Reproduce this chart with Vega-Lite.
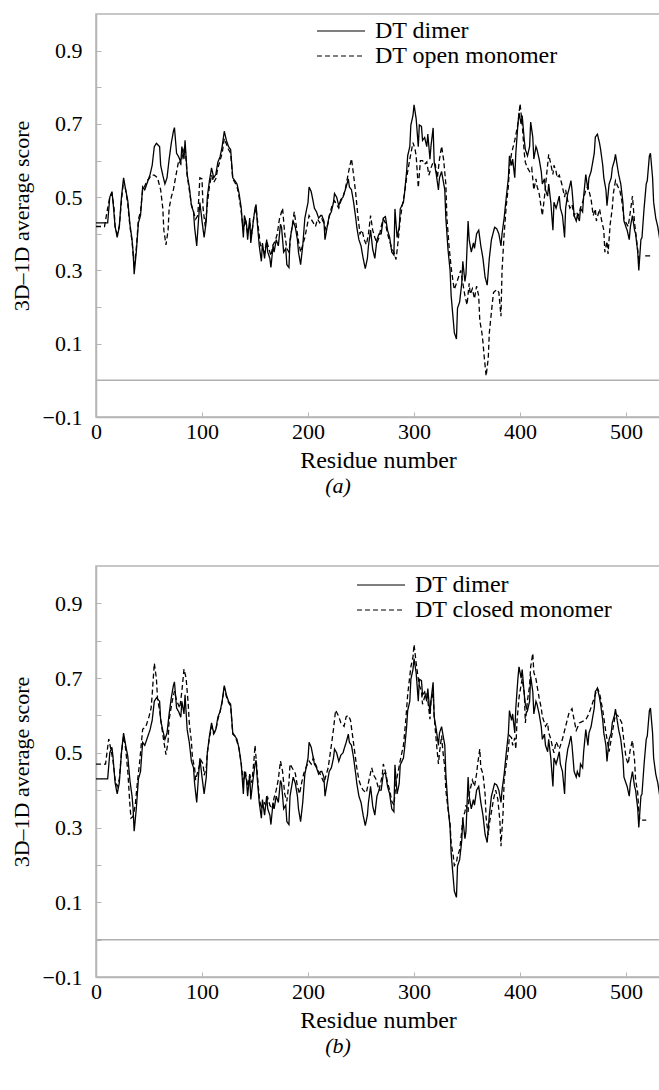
{
"$schema": "https://vega.github.io/schema/vega-lite/v6.json",
"background": "white",
"padding": {"left": 9, "top": 13, "right": 0, "bottom": 4},
"config": {
  "font": "Liberation Serif",
  "view": {"stroke": "#b5b5b5", "strokeWidth": 1.5},
  "axis": {"domainColor": "#b5b5b5", "domainWidth": 1.5, "tickColor": "#b5b5b5", "tickWidth": 1, "tickSize": -5, "grid": false,
    "labelFont": "Liberation Serif", "labelFontSize": 22, "labelColor": "#000", "labelFlush": false, "labelOverlap": false,
    "titleFont": "Liberation Serif", "titleFontSize": 22, "titleFontWeight": "normal", "titleColor": "#000"},
  "legend": {"title": null, "labelFont": "Liberation Serif", "labelFontSize": 24, "labelColor": "#000", "labelLimit": 400, "symbolType": "stroke", "symbolSize": 2304, "symbolStrokeWidth": 1.2, "symbolStrokeColor": "#000", "labelOffset": 9, "rowPadding": 1, "clipHeight": 22, "padding": 0},
  "title": {"font": "Liberation Serif", "fontSize": 22, "fontWeight": "normal", "fontStyle": "italic", "color": "#000"}
},
"datasets": {
"dimer": [{"residue":0,"score":0.43},{"residue":11,"score":0.43},{"residue":13,"score":0.5},{"residue":15,"score":0.515},{"residue":16,"score":0.49},{"residue":18,"score":0.42},{"residue":20,"score":0.39},{"residue":22,"score":0.42},{"residue":24,"score":0.5},{"residue":26,"score":0.553},{"residue":28,"score":0.52},{"residue":30,"score":0.49},{"residue":32,"score":0.426},{"residue":34,"score":0.384},{"residue":35,"score":0.35},{"residue":36,"score":0.29},{"residue":38,"score":0.35},{"residue":40,"score":0.43},{"residue":42,"score":0.45},{"residue":44,"score":0.528},{"residue":46,"score":0.52},{"residue":49,"score":0.545},{"residue":51,"score":0.562},{"residue":53,"score":0.587},{"residue":55,"score":0.638},{"residue":57,"score":0.647},{"residue":60,"score":0.638},{"residue":61,"score":0.587},{"residue":63,"score":0.56},{"residue":65,"score":0.536},{"residue":67,"score":0.553},{"residue":69,"score":0.604},{"residue":71,"score":0.647},{"residue":73,"score":0.68},{"residue":74,"score":0.69},{"residue":76,"score":0.62},{"residue":78,"score":0.61},{"residue":80,"score":0.595},{"residue":81,"score":0.638},{"residue":83,"score":0.604},{"residue":84,"score":0.655},{"residue":86,"score":0.562},{"residue":88,"score":0.528},{"residue":90,"score":0.477},{"residue":92,"score":0.46},{"residue":93,"score":0.418},{"residue":95,"score":0.367},{"residue":97,"score":0.45},{"residue":98,"score":0.485},{"residue":100,"score":0.435},{"residue":102,"score":0.39},{"residue":104,"score":0.435},{"residue":105,"score":0.5},{"residue":107,"score":0.545},{"residue":109,"score":0.58},{"residue":111,"score":0.553},{"residue":113,"score":0.562},{"residue":115,"score":0.596},{"residue":117,"score":0.61},{"residue":119,"score":0.638},{"residue":121,"score":0.68},{"residue":123,"score":0.655},{"residue":125,"score":0.638},{"residue":127,"score":0.63},{"residue":129,"score":0.553},{"residue":131,"score":0.545},{"residue":133,"score":0.536},{"residue":135,"score":0.51},{"residue":137,"score":0.47},{"residue":139,"score":0.39},{"residue":140,"score":0.45},{"residue":142,"score":0.426},{"residue":143,"score":0.384},{"residue":145,"score":0.443},{"residue":146,"score":0.375},{"residue":148,"score":0.426},{"residue":150,"score":0.47},{"residue":151,"score":0.48},{"residue":152,"score":0.435},{"residue":154,"score":0.367},{"residue":156,"score":0.325},{"residue":157,"score":0.375},{"residue":159,"score":0.333},{"residue":161,"score":0.384},{"residue":162,"score":0.35},{"residue":164,"score":0.333},{"residue":165,"score":0.308},{"residue":167,"score":0.367},{"residue":168,"score":0.35},{"residue":170,"score":0.384},{"residue":172,"score":0.367},{"residue":174,"score":0.426},{"residue":175,"score":0.418},{"residue":177,"score":0.35},{"residue":179,"score":0.36},{"residue":180,"score":0.316},{"residue":182,"score":0.308},{"residue":183,"score":0.384},{"residue":185,"score":0.418},{"residue":186,"score":0.435},{"residue":188,"score":0.418},{"residue":190,"score":0.384},{"residue":191,"score":0.35},{"residue":193,"score":0.316},{"residue":195,"score":0.367},{"residue":197,"score":0.443},{"residue":200,"score":0.486},{"residue":201,"score":0.528},{"residue":203,"score":0.515},{"residue":205,"score":0.486},{"residue":206,"score":0.47},{"residue":208,"score":0.46},{"residue":210,"score":0.443},{"residue":212,"score":0.45},{"residue":213,"score":0.45},{"residue":215,"score":0.435},{"residue":216,"score":0.384},{"residue":218,"score":0.418},{"residue":220,"score":0.45},{"residue":222,"score":0.46},{"residue":224,"score":0.486},{"residue":225,"score":0.51},{"residue":227,"score":0.5},{"residue":229,"score":0.477},{"residue":231,"score":0.494},{"residue":233,"score":0.5},{"residue":234,"score":0.51},{"residue":236,"score":0.528},{"residue":238,"score":0.55},{"residue":239,"score":0.528},{"residue":241,"score":0.52},{"residue":243,"score":0.486},{"residue":245,"score":0.443},{"residue":246,"score":0.418},{"residue":248,"score":0.384},{"residue":250,"score":0.367},{"residue":252,"score":0.333},{"residue":254,"score":0.305},{"residue":256,"score":0.333},{"residue":257,"score":0.367},{"residue":259,"score":0.41},{"residue":261,"score":0.358},{"residue":263,"score":0.333},{"residue":265,"score":0.384},{"residue":267,"score":0.4},{"residue":269,"score":0.4},{"residue":271,"score":0.443},{"residue":273,"score":0.447},{"residue":275,"score":0.41},{"residue":277,"score":0.39},{"residue":279,"score":0.35},{"residue":281,"score":0.342},{"residue":282,"score":0.468},{"residue":284,"score":0.39},{"residue":286,"score":0.418},{"residue":287,"score":0.468},{"residue":290,"score":0.486},{"residue":291,"score":0.51},{"residue":293,"score":0.57},{"residue":294,"score":0.613},{"residue":296,"score":0.638},{"residue":297,"score":0.697},{"residue":299,"score":0.723},{"residue":300,"score":0.752},{"residue":302,"score":0.714},{"residue":304,"score":0.638},{"residue":305,"score":0.697},{"residue":307,"score":0.693},{"residue":308,"score":0.655},{"residue":310,"score":0.663},{"residue":312,"score":0.638},{"residue":313,"score":0.672},{"residue":315,"score":0.604},{"residue":316,"score":0.64},{"residue":318,"score":0.689},{"residue":319,"score":0.596},{"residue":321,"score":0.562},{"residue":323,"score":0.52},{"residue":324,"score":0.553},{"residue":326,"score":0.57},{"residue":327,"score":0.553},{"residue":329,"score":0.52},{"residue":330,"score":0.443},{"residue":332,"score":0.358},{"residue":334,"score":0.3},{"residue":335,"score":0.231},{"residue":337,"score":0.164},{"residue":338,"score":0.13},{"residue":340,"score":0.113},{"residue":341,"score":0.197},{"residue":343,"score":0.214},{"residue":345,"score":0.265},{"residue":346,"score":0.325},{"residue":348,"score":0.27},{"residue":349,"score":0.29},{"residue":351,"score":0.435},{"residue":352,"score":0.384},{"residue":354,"score":0.35},{"residue":356,"score":0.375},{"residue":357,"score":0.36},{"residue":359,"score":0.4},{"residue":361,"score":0.41},{"residue":363,"score":0.367},{"residue":365,"score":0.333},{"residue":367,"score":0.282},{"residue":369,"score":0.26},{"residue":371,"score":0.333},{"residue":373,"score":0.384},{"residue":376,"score":0.418},{"residue":378,"score":0.414},{"residue":380,"score":0.4},{"residue":382,"score":0.367},{"residue":383,"score":0.4},{"residue":385,"score":0.443},{"residue":387,"score":0.5},{"residue":389,"score":0.553},{"residue":390,"score":0.613},{"residue":392,"score":0.587},{"residue":393,"score":0.604},{"residue":395,"score":0.553},{"residue":396,"score":0.62},{"residue":398,"score":0.7},{"residue":399,"score":0.73},{"residue":401,"score":0.7},{"residue":402,"score":0.723},{"residue":404,"score":0.655},{"residue":405,"score":0.63},{"residue":407,"score":0.613},{"residue":409,"score":0.638},{"residue":410,"score":0.705},{"residue":412,"score":0.664},{"residue":413,"score":0.604},{"residue":415,"score":0.638},{"residue":416,"score":0.63},{"residue":418,"score":0.604},{"residue":420,"score":0.57},{"residue":421,"score":0.536},{"residue":423,"score":0.55},{"residue":424,"score":0.52},{"residue":426,"score":0.503},{"residue":427,"score":0.536},{"residue":429,"score":0.486},{"residue":431,"score":0.41},{"residue":432,"score":0.486},{"residue":434,"score":0.47},{"residue":435,"score":0.48},{"residue":437,"score":0.503},{"residue":438,"score":0.47},{"residue":440,"score":0.45},{"residue":442,"score":0.39},{"residue":443,"score":0.47},{"residue":445,"score":0.51},{"residue":446,"score":0.52},{"residue":448,"score":0.545},{"residue":449,"score":0.52},{"residue":451,"score":0.45},{"residue":453,"score":0.435},{"residue":454,"score":0.45},{"residue":456,"score":0.435},{"residue":457,"score":0.47},{"residue":459,"score":0.46},{"residue":460,"score":0.503},{"residue":462,"score":0.562},{"residue":464,"score":0.52},{"residue":465,"score":0.553},{"residue":467,"score":0.57},{"residue":468,"score":0.587},{"residue":470,"score":0.62},{"residue":471,"score":0.664},{"residue":473,"score":0.672},{"residue":475,"score":0.647},{"residue":476,"score":0.63},{"residue":478,"score":0.587},{"residue":479,"score":0.553},{"residue":481,"score":0.52},{"residue":482,"score":0.477},{"residue":484,"score":0.536},{"residue":486,"score":0.553},{"residue":487,"score":0.58},{"residue":489,"score":0.6},{"residue":490,"score":0.617},{"residue":492,"score":0.58},{"residue":493,"score":0.562},{"residue":495,"score":0.536},{"residue":497,"score":0.486},{"residue":498,"score":0.435},{"residue":500,"score":0.418},{"residue":501,"score":0.41},{"residue":503,"score":0.384},{"residue":504,"score":0.418},{"residue":506,"score":0.45},{"residue":508,"score":0.41},{"residue":509,"score":0.4},{"residue":511,"score":0.35},{"residue":512,"score":0.3},{"residue":514,"score":0.384},{"residue":515,"score":0.39},{"residue":517,"score":0.47},{"residue":519,"score":0.536},{"residue":520,"score":0.545},{"residue":522,"score":0.613},{"residue":523,"score":0.62},{"residue":525,"score":0.553},{"residue":526,"score":0.486},{"residue":528,"score":0.443},{"residue":530,"score":0.418},{"residue":532,"score":0.38}],
"open": [{"residue":0,"score":0.42},{"residue":8,"score":0.42},{"residue":11,"score":0.47},{"residue":13,"score":0.5},{"residue":15,"score":0.51},{"residue":17,"score":0.47},{"residue":18,"score":0.42},{"residue":20,"score":0.4},{"residue":22,"score":0.42},{"residue":24,"score":0.49},{"residue":26,"score":0.545},{"residue":28,"score":0.52},{"residue":30,"score":0.48},{"residue":32,"score":0.42},{"residue":34,"score":0.38},{"residue":36,"score":0.31},{"residue":38,"score":0.36},{"residue":40,"score":0.44},{"residue":42,"score":0.46},{"residue":44,"score":0.52},{"residue":46,"score":0.53},{"residue":48,"score":0.545},{"residue":50,"score":0.55},{"residue":52,"score":0.56},{"residue":55,"score":0.56},{"residue":58,"score":0.553},{"residue":61,"score":0.52},{"residue":63,"score":0.47},{"residue":64,"score":0.41},{"residue":66,"score":0.37},{"residue":68,"score":0.41},{"residue":69,"score":0.47},{"residue":71,"score":0.5},{"residue":73,"score":0.52},{"residue":75,"score":0.553},{"residue":78,"score":0.6},{"residue":80,"score":0.59},{"residue":82,"score":0.62},{"residue":84,"score":0.64},{"residue":86,"score":0.56},{"residue":88,"score":0.52},{"residue":90,"score":0.48},{"residue":92,"score":0.46},{"residue":94,"score":0.44},{"residue":96,"score":0.45},{"residue":98,"score":0.553},{"residue":100,"score":0.55},{"residue":101,"score":0.47},{"residue":103,"score":0.42},{"residue":105,"score":0.48},{"residue":107,"score":0.53},{"residue":109,"score":0.56},{"residue":111,"score":0.54},{"residue":113,"score":0.55},{"residue":115,"score":0.58},{"residue":117,"score":0.6},{"residue":119,"score":0.62},{"residue":121,"score":0.66},{"residue":123,"score":0.645},{"residue":125,"score":0.63},{"residue":127,"score":0.62},{"residue":129,"score":0.55},{"residue":131,"score":0.54},{"residue":133,"score":0.53},{"residue":135,"score":0.5},{"residue":137,"score":0.46},{"residue":139,"score":0.41},{"residue":141,"score":0.44},{"residue":143,"score":0.4},{"residue":145,"score":0.43},{"residue":147,"score":0.4},{"residue":149,"score":0.45},{"residue":151,"score":0.47},{"residue":153,"score":0.42},{"residue":155,"score":0.37},{"residue":157,"score":0.36},{"residue":159,"score":0.35},{"residue":161,"score":0.38},{"residue":163,"score":0.36},{"residue":165,"score":0.34},{"residue":167,"score":0.37},{"residue":169,"score":0.38},{"residue":171,"score":0.4},{"residue":173,"score":0.44},{"residue":176,"score":0.47},{"residue":178,"score":0.4},{"residue":180,"score":0.36},{"residue":182,"score":0.35},{"residue":184,"score":0.4},{"residue":186,"score":0.44},{"residue":187,"score":0.46},{"residue":189,"score":0.42},{"residue":191,"score":0.38},{"residue":193,"score":0.35},{"residue":195,"score":0.37},{"residue":197,"score":0.39},{"residue":199,"score":0.42},{"residue":201,"score":0.45},{"residue":203,"score":0.44},{"residue":205,"score":0.43},{"residue":207,"score":0.42},{"residue":209,"score":0.44},{"residue":211,"score":0.43},{"residue":213,"score":0.44},{"residue":215,"score":0.43},{"residue":217,"score":0.41},{"residue":219,"score":0.43},{"residue":221,"score":0.46},{"residue":223,"score":0.48},{"residue":225,"score":0.49},{"residue":227,"score":0.48},{"residue":229,"score":0.47},{"residue":231,"score":0.49},{"residue":233,"score":0.5},{"residue":235,"score":0.52},{"residue":237,"score":0.55},{"residue":239,"score":0.58},{"residue":241,"score":0.605},{"residue":243,"score":0.56},{"residue":245,"score":0.51},{"residue":247,"score":0.45},{"residue":249,"score":0.4},{"residue":251,"score":0.41},{"residue":253,"score":0.384},{"residue":255,"score":0.37},{"residue":257,"score":0.4},{"residue":259,"score":0.45},{"residue":261,"score":0.41},{"residue":263,"score":0.39},{"residue":265,"score":0.375},{"residue":267,"score":0.39},{"residue":269,"score":0.42},{"residue":271,"score":0.44},{"residue":273,"score":0.43},{"residue":275,"score":0.4},{"residue":277,"score":0.38},{"residue":279,"score":0.36},{"residue":281,"score":0.35},{"residue":283,"score":0.33},{"residue":285,"score":0.38},{"residue":287,"score":0.44},{"residue":289,"score":0.48},{"residue":291,"score":0.51},{"residue":293,"score":0.553},{"residue":296,"score":0.604},{"residue":299,"score":0.649},{"residue":301,"score":0.63},{"residue":302,"score":0.613},{"residue":304,"score":0.526},{"residue":306,"score":0.6},{"residue":308,"score":0.6},{"residue":310,"score":0.59},{"residue":312,"score":0.596},{"residue":314,"score":0.56},{"residue":316,"score":0.58},{"residue":318,"score":0.596},{"residue":320,"score":0.59},{"residue":322,"score":0.553},{"residue":324,"score":0.604},{"residue":326,"score":0.639},{"residue":328,"score":0.6},{"residue":330,"score":0.536},{"residue":331,"score":0.443},{"residue":333,"score":0.367},{"residue":335,"score":0.308},{"residue":337,"score":0.265},{"residue":338,"score":0.248},{"residue":340,"score":0.265},{"residue":342,"score":0.282},{"residue":344,"score":0.3},{"residue":346,"score":0.265},{"residue":348,"score":0.231},{"residue":350,"score":0.206},{"residue":352,"score":0.265},{"residue":353,"score":0.235},{"residue":355,"score":0.25},{"residue":357,"score":0.223},{"residue":359,"score":0.257},{"residue":361,"score":0.23},{"residue":362,"score":0.164},{"residue":364,"score":0.13},{"residue":365,"score":0.104},{"residue":366,"score":0.07},{"residue":368,"score":0.012},{"residue":370,"score":0.06},{"residue":371,"score":0.13},{"residue":374,"score":0.215},{"residue":375,"score":0.24},{"residue":378,"score":0.248},{"residue":380,"score":0.24},{"residue":382,"score":0.175},{"residue":383,"score":0.3},{"residue":385,"score":0.4},{"residue":387,"score":0.477},{"residue":389,"score":0.53},{"residue":390,"score":0.58},{"residue":392,"score":0.62},{"residue":395,"score":0.655},{"residue":398,"score":0.7},{"residue":400,"score":0.755},{"residue":402,"score":0.7},{"residue":404,"score":0.62},{"residue":405,"score":0.595},{"residue":407,"score":0.58},{"residue":409,"score":0.57},{"residue":411,"score":0.58},{"residue":413,"score":0.52},{"residue":415,"score":0.55},{"residue":416,"score":0.53},{"residue":418,"score":0.51},{"residue":420,"score":0.47},{"residue":421,"score":0.45},{"residue":423,"score":0.5},{"residue":425,"score":0.56},{"residue":427,"score":0.617},{"residue":429,"score":0.59},{"residue":431,"score":0.562},{"residue":432,"score":0.587},{"residue":434,"score":0.57},{"residue":435,"score":0.553},{"residue":437,"score":0.56},{"residue":439,"score":0.54},{"residue":440,"score":0.528},{"residue":442,"score":0.5},{"residue":443,"score":0.52},{"residue":445,"score":0.49},{"residue":447,"score":0.47},{"residue":449,"score":0.48},{"residue":451,"score":0.45},{"residue":453,"score":0.46},{"residue":455,"score":0.45},{"residue":457,"score":0.47},{"residue":459,"score":0.486},{"residue":462,"score":0.52},{"residue":464,"score":0.53},{"residue":467,"score":0.494},{"residue":469,"score":0.45},{"residue":471,"score":0.468},{"residue":472,"score":0.435},{"residue":475,"score":0.468},{"residue":477,"score":0.435},{"residue":479,"score":0.41},{"residue":480,"score":0.35},{"residue":482,"score":0.38},{"residue":483,"score":0.345},{"residue":485,"score":0.426},{"residue":487,"score":0.47},{"residue":488,"score":0.51},{"residue":490,"score":0.545},{"residue":492,"score":0.53},{"residue":494,"score":0.52},{"residue":496,"score":0.49},{"residue":498,"score":0.44},{"residue":500,"score":0.43},{"residue":502,"score":0.42},{"residue":504,"score":0.46},{"residue":506,"score":0.503},{"residue":508,"score":0.43},{"residue":510,"score":0.38},{"residue":512,"score":0.33},{"residue":516,"score":null},{"residue":518,"score":0.34},{"residue":523,"score":0.34}],
"closed": [{"residue":0,"score":0.47},{"residue":9,"score":0.47},{"residue":12,"score":0.537},{"residue":14,"score":0.51},{"residue":16,"score":0.48},{"residue":18,"score":0.43},{"residue":20,"score":0.41},{"residue":22,"score":0.43},{"residue":24,"score":0.5},{"residue":26,"score":0.545},{"residue":28,"score":0.51},{"residue":30,"score":0.45},{"residue":32,"score":0.36},{"residue":33,"score":0.325},{"residue":35,"score":0.33},{"residue":37,"score":0.36},{"residue":39,"score":0.42},{"residue":41,"score":0.47},{"residue":44,"score":0.563},{"residue":47,"score":0.57},{"residue":50,"score":0.597},{"residue":52,"score":0.62},{"residue":53,"score":0.656},{"residue":55,"score":0.74},{"residue":57,"score":0.698},{"residue":58,"score":0.647},{"residue":60,"score":0.613},{"residue":62,"score":0.57},{"residue":64,"score":0.53},{"residue":66,"score":0.495},{"residue":68,"score":0.53},{"residue":69,"score":0.59},{"residue":72,"score":0.64},{"residue":74,"score":0.665},{"residue":76,"score":0.64},{"residue":79,"score":0.62},{"residue":81,"score":0.665},{"residue":83,"score":0.724},{"residue":85,"score":0.7},{"residue":87,"score":0.63},{"residue":88,"score":0.58},{"residue":90,"score":0.53},{"residue":91,"score":0.486},{"residue":93,"score":0.46},{"residue":94,"score":0.427},{"residue":96,"score":0.45},{"residue":98,"score":0.47},{"residue":99,"score":0.48},{"residue":101,"score":0.47},{"residue":102,"score":0.44},{"residue":104,"score":0.46},{"residue":105,"score":0.5},{"residue":107,"score":0.54},{"residue":109,"score":0.57},{"residue":111,"score":0.55},{"residue":113,"score":0.56},{"residue":115,"score":0.59},{"residue":117,"score":0.61},{"residue":119,"score":0.635},{"residue":121,"score":0.675},{"residue":123,"score":0.65},{"residue":125,"score":0.635},{"residue":127,"score":0.625},{"residue":129,"score":0.55},{"residue":131,"score":0.545},{"residue":133,"score":0.53},{"residue":135,"score":0.51},{"residue":137,"score":0.47},{"residue":139,"score":0.42},{"residue":141,"score":0.45},{"residue":143,"score":0.41},{"residue":145,"score":0.44},{"residue":147,"score":0.42},{"residue":149,"score":0.48},{"residue":150,"score":0.52},{"residue":152,"score":0.45},{"residue":154,"score":0.38},{"residue":156,"score":0.35},{"residue":158,"score":0.37},{"residue":160,"score":0.36},{"residue":162,"score":0.38},{"residue":164,"score":0.36},{"residue":166,"score":0.35},{"residue":168,"score":0.38},{"residue":170,"score":0.4},{"residue":172,"score":0.43},{"residue":174,"score":0.478},{"residue":176,"score":0.45},{"residue":178,"score":0.39},{"residue":180,"score":0.37},{"residue":182,"score":0.42},{"residue":183,"score":0.47},{"residue":185,"score":0.46},{"residue":188,"score":0.445},{"residue":190,"score":0.41},{"residue":192,"score":0.39},{"residue":194,"score":0.42},{"residue":196,"score":0.445},{"residue":198,"score":0.46},{"residue":201,"score":0.478},{"residue":203,"score":0.47},{"residue":205,"score":0.486},{"residue":207,"score":0.47},{"residue":210,"score":0.45},{"residue":212,"score":0.44},{"residue":215,"score":0.42},{"residue":217,"score":0.44},{"residue":219,"score":0.46},{"residue":222,"score":0.52},{"residue":224,"score":0.563},{"residue":226,"score":0.614},{"residue":229,"score":0.597},{"residue":231,"score":0.58},{"residue":234,"score":0.571},{"residue":236,"score":0.597},{"residue":238,"score":0.6},{"residue":240,"score":0.588},{"residue":242,"score":0.546},{"residue":244,"score":0.503},{"residue":246,"score":0.46},{"residue":248,"score":0.427},{"residue":250,"score":0.41},{"residue":252,"score":0.4},{"residue":255,"score":0.393},{"residue":257,"score":0.42},{"residue":260,"score":0.46},{"residue":262,"score":0.44},{"residue":264,"score":0.43},{"residue":267,"score":0.4},{"residue":270,"score":0.44},{"residue":271,"score":0.47},{"residue":273,"score":0.45},{"residue":275,"score":0.42},{"residue":277,"score":0.4},{"residue":279,"score":0.37},{"residue":281,"score":0.36},{"residue":283,"score":0.42},{"residue":285,"score":0.45},{"residue":287,"score":0.48},{"residue":290,"score":0.52},{"residue":292,"score":0.58},{"residue":294,"score":0.656},{"residue":297,"score":0.73},{"residue":299,"score":0.757},{"residue":300,"score":0.79},{"residue":302,"score":0.74},{"residue":304,"score":0.698},{"residue":305,"score":0.68},{"residue":307,"score":0.665},{"residue":308,"score":0.63},{"residue":310,"score":0.65},{"residue":312,"score":0.66},{"residue":313,"score":0.64},{"residue":315,"score":0.59},{"residue":316,"score":0.64},{"residue":318,"score":0.66},{"residue":319,"score":0.597},{"residue":321,"score":0.53},{"residue":323,"score":0.47},{"residue":324,"score":0.5},{"residue":326,"score":0.546},{"residue":327,"score":0.51},{"residue":329,"score":0.46},{"residue":330,"score":0.4},{"residue":332,"score":0.35},{"residue":334,"score":0.31},{"residue":335,"score":0.258},{"residue":337,"score":0.224},{"residue":338,"score":0.198},{"residue":340,"score":0.207},{"residue":341,"score":0.224},{"residue":343,"score":0.24},{"residue":345,"score":0.29},{"residue":346,"score":0.325},{"residue":348,"score":0.342},{"residue":349,"score":0.36},{"residue":351,"score":0.342},{"residue":352,"score":0.39},{"residue":355,"score":0.427},{"residue":357,"score":0.41},{"residue":359,"score":0.444},{"residue":360,"score":0.47},{"residue":362,"score":0.51},{"residue":363,"score":0.46},{"residue":365,"score":0.444},{"residue":367,"score":0.39},{"residue":368,"score":0.325},{"residue":370,"score":0.28},{"residue":371,"score":0.31},{"residue":373,"score":0.342},{"residue":375,"score":0.376},{"residue":377,"score":0.4},{"residue":379,"score":0.376},{"residue":381,"score":0.317},{"residue":382,"score":0.25},{"residue":384,"score":0.342},{"residue":385,"score":0.427},{"residue":387,"score":0.47},{"residue":389,"score":0.51},{"residue":390,"score":0.546},{"residue":392,"score":0.54},{"residue":393,"score":0.52},{"residue":395,"score":0.54},{"residue":396,"score":0.51},{"residue":397,"score":0.58},{"residue":399,"score":0.647},{"residue":400,"score":0.665},{"residue":402,"score":0.698},{"residue":404,"score":0.66},{"residue":405,"score":0.58},{"residue":407,"score":0.64},{"residue":409,"score":0.68},{"residue":410,"score":0.73},{"residue":412,"score":0.766},{"residue":413,"score":0.715},{"residue":415,"score":0.698},{"residue":416,"score":0.68},{"residue":418,"score":0.647},{"residue":420,"score":0.62},{"residue":421,"score":0.597},{"residue":423,"score":0.58},{"residue":424,"score":0.571},{"residue":426,"score":0.58},{"residue":427,"score":0.554},{"residue":429,"score":0.537},{"residue":431,"score":0.51},{"residue":432,"score":0.5},{"residue":434,"score":0.53},{"residue":437,"score":0.51},{"residue":440,"score":0.537},{"residue":443,"score":0.571},{"residue":446,"score":0.605},{"residue":449,"score":0.618},{"residue":451,"score":0.588},{"residue":453,"score":0.56},{"residue":456,"score":0.58},{"residue":459,"score":0.584},{"residue":462,"score":0.588},{"residue":465,"score":0.605},{"residue":468,"score":0.63},{"residue":471,"score":0.656},{"residue":473,"score":0.673},{"residue":475,"score":0.66},{"residue":478,"score":0.614},{"residue":481,"score":0.554},{"residue":484,"score":0.503},{"residue":487,"score":0.554},{"residue":490,"score":0.605},{"residue":493,"score":0.597},{"residue":496,"score":0.58},{"residue":498,"score":0.53},{"residue":500,"score":0.486},{"residue":502,"score":0.47},{"residue":504,"score":0.51},{"residue":506,"score":0.533},{"residue":508,"score":0.48},{"residue":509,"score":0.427},{"residue":511,"score":0.393},{"residue":512,"score":0.342},{"residue":513,"score":0.32},{"residue":519,"score":0.32}]
},
"spacing": 149,
"bounds": "flush",
"resolve": {"scale": {"strokeDash": "independent"}, "legend": {"strokeDash": "independent"}},
"vconcat": [
 {
  "width": 564, "height": 403,
  "title": {"text": "(a)", "orient": "bottom", "dx": -40, "offset": 4},
  "layer": [
   {"data": {"name": "dimer"}, "mark": {"type": "line", "color": "#000", "strokeWidth": 1.3, "clip": true},
    "encoding": {
     "x": {"field": "residue", "type": "quantitative", "scale": {"domain": [0, 532], "nice": false, "zero": false}, "axis": {"values": [0,100,200,300,400,500], "title": "Residue number", "titleFontSize": 24, "labelPadding": 9, "titlePadding": 6}},
     "y": {"field": "score", "type": "quantitative", "scale": {"domain": [-0.1, 1.0], "nice": false, "zero": false}, "axis": {"values": [-0.1,0,0.1,0.2,0.3,0.4,0.5,0.6,0.7,0.8,0.9], "format": ".1f", "labelExpr": "abs(round(datum.value*10)) % 2 == 1 ? datum.label : ''", "title": "3D–1D average score", "labelPadding": 19, "titlePadding": 9}},
     "strokeDash": {"datum": "DT dimer", "type": "nominal", "scale": {"domain": ["DT dimer", "DT open monomer"], "range": [[1,0],[5,3]]}, "legend": {"orient": "none", "legendX": 220, "legendY": 6}}
    }},
   {"data": {"name": "open"}, "mark": {"type": "line", "color": "#000", "strokeWidth": 1.3, "clip": true},
    "encoding": {
     "x": {"field": "residue", "type": "quantitative"},
     "y": {"field": "score", "type": "quantitative"},
     "strokeDash": {"datum": "DT open monomer", "type": "nominal"}
    }},
   {"data": {"values": [{}]}, "mark": {"type": "rule", "color": "#b0b0b0", "strokeWidth": 1.5},
    "encoding": {"y": {"datum": 0, "type": "quantitative"}}}
  ]
 },
 {
  "width": 564, "height": 411,
  "title": {"text": "(b)", "orient": "bottom", "dx": -40, "offset": 4},
  "layer": [
   {"data": {"name": "dimer"}, "mark": {"type": "line", "color": "#000", "strokeWidth": 1.3, "clip": true},
    "encoding": {
     "x": {"field": "residue", "type": "quantitative", "scale": {"domain": [0, 532], "nice": false, "zero": false}, "axis": {"values": [0,100,200,300,400,500], "title": "Residue number", "titleFontSize": 24, "labelPadding": 9, "titlePadding": 6}},
     "y": {"field": "score", "type": "quantitative", "scale": {"domain": [-0.1, 1.0], "nice": false, "zero": false}, "axis": {"values": [-0.1,0,0.1,0.2,0.3,0.4,0.5,0.6,0.7,0.8,0.9], "format": ".1f", "labelExpr": "abs(round(datum.value*10)) % 2 == 1 ? datum.label : ''", "title": "3D–1D average score", "labelPadding": 19, "titlePadding": 9}},
     "strokeDash": {"datum": "DT dimer", "type": "nominal", "scale": {"domain": ["DT dimer", "DT closed monomer"], "range": [[1,0],[5,3]]}, "legend": {"orient": "none", "legendX": 260, "legendY": 8}}
    }},
   {"data": {"name": "closed"}, "mark": {"type": "line", "color": "#000", "strokeWidth": 1.3, "clip": true},
    "encoding": {
     "x": {"field": "residue", "type": "quantitative"},
     "y": {"field": "score", "type": "quantitative"},
     "strokeDash": {"datum": "DT closed monomer", "type": "nominal"}
    }},
   {"data": {"values": [{}]}, "mark": {"type": "rule", "color": "#b0b0b0", "strokeWidth": 1.5},
    "encoding": {"y": {"datum": 0, "type": "quantitative"}}}
  ]
 }
]
}
